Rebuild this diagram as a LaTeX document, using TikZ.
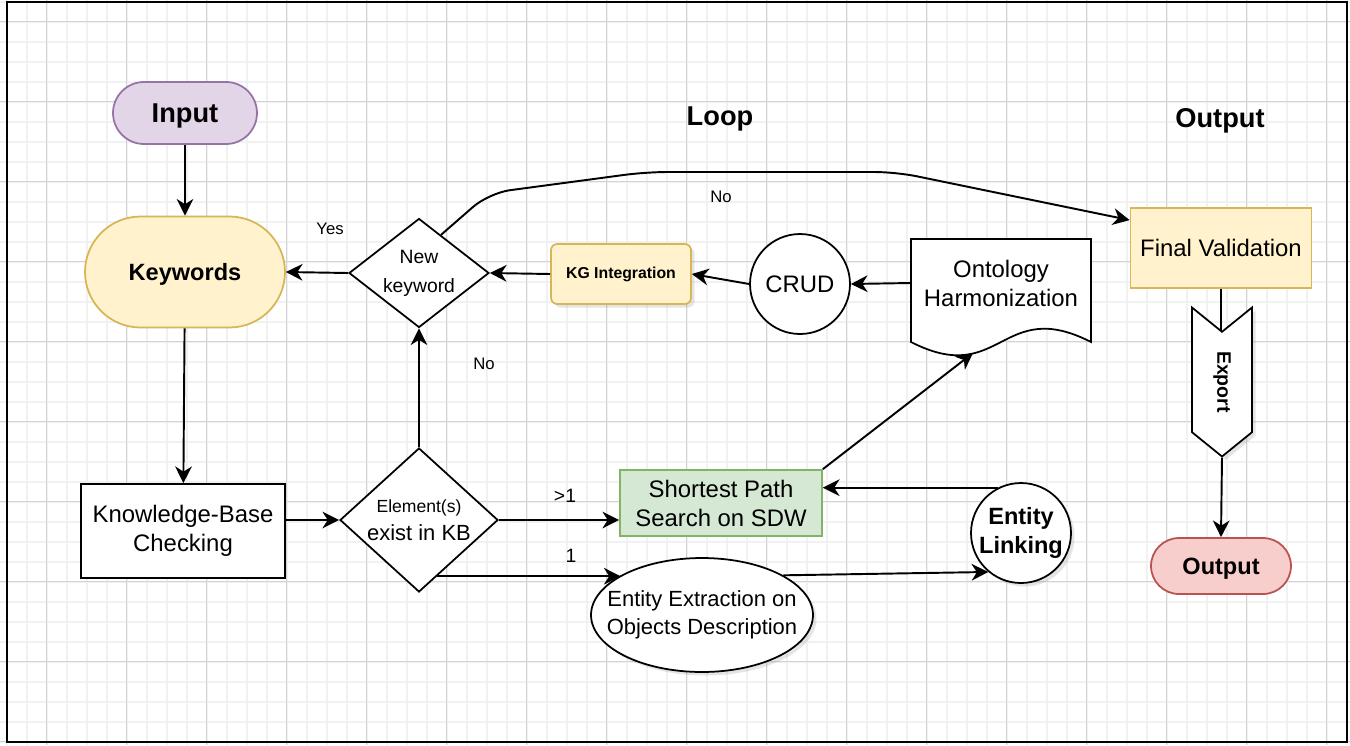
\documentclass[tikz,border=0pt]{standalone}
\usepackage{fontspec}
\setmainfont{Liberation Sans}
\usetikzlibrary{arrows.meta,shapes.geometric,shapes.symbols,shadows}

\definecolor{gridminor}{HTML}{F1F1F1}
\definecolor{gridmajor}{HTML}{D3D3D3}
\definecolor{purplefill}{HTML}{E1D5E7}
\definecolor{purpleline}{HTML}{9673A6}
\definecolor{yellowfill}{HTML}{FFF2CC}
\definecolor{yellowline}{HTML}{D6B656}
\definecolor{greenfill}{HTML}{D5E8D4}
\definecolor{greenline}{HTML}{82B366}
\definecolor{redfill}{HTML}{F8CECC}
\definecolor{redline}{HTML}{B85450}

\begin{document}
\begin{tikzpicture}[x=0.02cm,y=-0.02cm,
   base/.style={inner sep=0pt,align=center,font=\fontsize{12.5}{16}\selectfont},
   big/.style={font=\fontsize{13.6}{16.5}\selectfont},
   box/.style={base,draw,line width=1pt,rectangle},
   pill/.style={base,draw,line width=1pt,rounded corners=#1},
   decision/.style={base,draw,line width=1pt,diamond,fill=white},
   shadowed/.style={drop shadow={shadow xshift=2pt,shadow yshift=-2pt,opacity=0.2}},
   bold/.style={font=\bfseries\fontsize{13.4}{16}\selectfont},
   title/.style={font=\bfseries\fontsize{15.5}{18}\selectfont,text depth=0pt},
   lbl/.style={font=\fontsize{9.5}{11}\selectfont},
   num/.style={font=\fontsize{11}{13}\selectfont},
   flow/.style={-{Stealth[length=9.5pt,width=9.5pt,inset=3pt]},line width=1.1pt}
]
\useasboundingbox (0,0) rectangle (1350,745);
\fill[white] (0,0) rectangle (1350,745);
% grid
\foreach \gx in {6.7,26.7,...,1350} \draw[gridminor,line width=1.1pt] (\gx,0) -- (\gx,745);
\foreach \gy in {1.7,21.7,...,745} \draw[gridminor,line width=1.1pt] (0,\gy) -- (1350,\gy);
\foreach \gx in {46.7,126.7,...,1350} \draw[gridmajor,line width=0.6pt] (\gx,0) -- (\gx,745);
\foreach \gy in {21.7,101.7,...,745} \draw[gridmajor,line width=0.6pt] (0,\gy) -- (1350,\gy);
\draw[line width=1.2pt] (7,2) rectangle (1347,742);

% input side
\node[pill=0.62cm,fill=purplefill,draw=purpleline,minimum width=2.88cm,minimum height=1.24cm,title] (input) at (185,113) {Input};
\node[pill=1.11cm,fill=yellowfill,draw=yellowline,minimum width=4cm,minimum height=2.22cm,bold,text depth=0pt] (keywords) at (185,272) {Keywords};
\node[box,big,fill=white,minimum width=4.08cm,minimum height=1.88cm] (kbc) at (183,531) {Knowledge-Base\\Checking};
\node[decision,minimum width=3.16cm,minimum height=2.88cm,
  label={[base]center:{{\fontsize{10}{12}\selectfont Element(s)}\\exist in KB}}] (elem) at (419,520) {};
\node[decision,minimum width=2.8cm,minimum height=2.18cm,
  label={[base,font=\fontsize{11}{16.5}\selectfont]center:{New\\keyword}}] (newkw) at (419,273) {};

% loop
\node[box,rounded corners=3.5pt,fill=yellowfill,draw=yellowline,minimum width=2.8cm,minimum height=1.2cm,shadowed,
  font=\bfseries\fontsize{9}{11}\selectfont] (kgi) at (621,274) {KG Integration};
\node[base,big,draw,line width=1pt,circle,fill=white,minimum size=2cm] (crud) at (800,284) {CRUD};
\draw[line width=1pt,fill=white] (911,239) -- (1091,239) -- (1091,342)
   .. controls (1001,296) and (1001,388) .. (911,342) -- cycle;
\node[base,big,minimum width=3.6cm,minimum height=1.76cm] (onto) at (1001,283) {Ontology\\Harmonization};
\coordinate (ontodip) at (973,353);
\node[box,big,fill=greenfill,draw=greenline,minimum width=4.04cm,minimum height=1.32cm] (sps) at (721,503) {Shortest Path\\Search on SDW};
\node[base,draw,line width=1pt,circle,fill=white,minimum size=2cm,shadowed,
  label={[base,bold]center:{Entity\\Linking}}] (el) at (1021,533) {};
\node[base,draw,line width=1pt,ellipse,fill=white,minimum width=4.44cm,minimum height=2.28cm,shadowed,
  label={[base]center:{Entity Extraction on\\Objects Description}}] (eeo) at (702,615) {};
\node[title] (loophdr) at (720,116) {Loop};

% output side
\node[title] (outhdr) at (1220,118) {Output};
\node[box,big,fill=yellowfill,draw=yellowline,minimum width=3.62cm,minimum height=1.6cm] (fv) at (1221,248) {Final Validation};
\coordinate (notch) at (1221,332);
\draw[line width=1.1pt] (fv.south) -- (notch);
\node[base,signal,signal to=east,signal from=west,rotate=-90,draw,fill=white,line width=1pt,
  minimum width=2.98cm,minimum height=1.2cm,signal pointer angle=102,shadowed,
  font=\bfseries\fontsize{11.1}{13}\selectfont] (exp) at (1222,382) {Export};
\node[pill=0.56cm,fill=redfill,draw=redline,minimum width=2.8cm,minimum height=1.12cm,bold,text depth=0pt] (out) at (1221,566) {Output};

% connectors
\draw[flow] (input) -- (keywords);
\draw[flow] (keywords) -- (kbc);
\draw[flow] (kbc.east |- elem.west) -- (elem.west);
\draw[flow] (elem.north) -- (newkw.south);
\draw[flow] (newkw.west) -- (keywords.east);
\draw[flow] (kgi.west) -- (newkw.east);
\draw[flow] (crud.west) -- (kgi.east);
\draw[flow] (onto.west) -- (crud.east);
\draw[flow] (sps.north east) -- (ontodip);
\draw[flow] (elem.east) -- (elem.east -| sps.west);
\draw[flow] (el.117) -- (el.117 -| sps.east);
\draw[flow] (elem.-72) -- (elem.-72 -| eeo.154);
\draw[flow] (eeo.26) -- (el.230);
\draw[flow,rounded corners=12pt] (newkw.60) -- (489,193) -- (646,172) -- (896,172) -- (fv.163);
\draw[flow] (exp.east) -- (out.north);

\node[lbl] (yes) at (330,229) {Yes};
\node[lbl] (no1) at (721,197) {No};
\node[lbl] (no2) at (484,364) {No};
\node[num] (gt) at (565,496) {>1};
\node[num] (one) at (571,556) {1};
\end{tikzpicture}
\end{document}
